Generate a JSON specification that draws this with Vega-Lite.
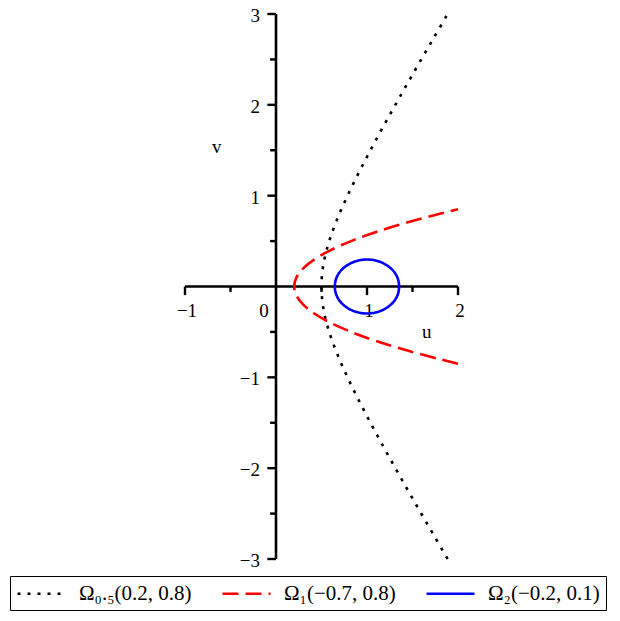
{
  "$schema": "https://vega.github.io/schema/vega-lite/v6.json",
  "width": 273,
  "height": 545,
  "autosize": {"type": "none"},
  "padding": {"left": 185, "top": 14, "right": 162, "bottom": 62},
  "background": "white",
  "config": {
    "view": {"stroke": null},
    "axis": {"disable": true},
    "text": {"font": "Liberation Serif", "fontSize": 19, "color": "black"}
  },
  "datasets": {
    "curves": [
      {"s": "Ω₀.₅(0.2, 0.8)", "i": 0, "u": 1.886, "v": -3.0},
      {"s": "Ω₀.₅(0.2, 0.8)", "i": 1, "u": 1.741, "v": -2.75},
      {"s": "Ω₀.₅(0.2, 0.8)", "i": 2, "u": 1.596, "v": -2.5},
      {"s": "Ω₀.₅(0.2, 0.8)", "i": 3, "u": 1.453, "v": -2.25},
      {"s": "Ω₀.₅(0.2, 0.8)", "i": 4, "u": 1.312, "v": -2.0},
      {"s": "Ω₀.₅(0.2, 0.8)", "i": 5, "u": 1.173, "v": -1.75},
      {"s": "Ω₀.₅(0.2, 0.8)", "i": 6, "u": 1.038, "v": -1.5},
      {"s": "Ω₀.₅(0.2, 0.8)", "i": 7, "u": 0.908, "v": -1.25},
      {"s": "Ω₀.₅(0.2, 0.8)", "i": 8, "u": 0.786, "v": -1.0},
      {"s": "Ω₀.₅(0.2, 0.8)", "i": 9, "u": 0.676, "v": -0.75},
      {"s": "Ω₀.₅(0.2, 0.8)", "i": 10, "u": 0.585, "v": -0.5},
      {"s": "Ω₀.₅(0.2, 0.8)", "i": 11, "u": 0.522, "v": -0.25},
      {"s": "Ω₀.₅(0.2, 0.8)", "i": 12, "u": 0.5, "v": 0.0},
      {"s": "Ω₀.₅(0.2, 0.8)", "i": 13, "u": 0.522, "v": 0.25},
      {"s": "Ω₀.₅(0.2, 0.8)", "i": 14, "u": 0.585, "v": 0.5},
      {"s": "Ω₀.₅(0.2, 0.8)", "i": 15, "u": 0.676, "v": 0.75},
      {"s": "Ω₀.₅(0.2, 0.8)", "i": 16, "u": 0.786, "v": 1.0},
      {"s": "Ω₀.₅(0.2, 0.8)", "i": 17, "u": 0.908, "v": 1.25},
      {"s": "Ω₀.₅(0.2, 0.8)", "i": 18, "u": 1.038, "v": 1.5},
      {"s": "Ω₀.₅(0.2, 0.8)", "i": 19, "u": 1.173, "v": 1.75},
      {"s": "Ω₀.₅(0.2, 0.8)", "i": 20, "u": 1.312, "v": 2.0},
      {"s": "Ω₀.₅(0.2, 0.8)", "i": 21, "u": 1.453, "v": 2.25},
      {"s": "Ω₀.₅(0.2, 0.8)", "i": 22, "u": 1.596, "v": 2.5},
      {"s": "Ω₀.₅(0.2, 0.8)", "i": 23, "u": 1.741, "v": 2.75},
      {"s": "Ω₀.₅(0.2, 0.8)", "i": 24, "u": 1.886, "v": 3.0},

      {"s": "Ω₁(−0.7, 0.8)", "i": 0, "u": 2.0, "v": -0.85},
      {"s": "Ω₁(−0.7, 0.8)", "i": 1, "u": 1.8, "v": -0.8},
      {"s": "Ω₁(−0.7, 0.8)", "i": 2, "u": 1.425, "v": -0.7},
      {"s": "Ω₁(−0.7, 0.8)", "i": 3, "u": 1.1, "v": -0.6},
      {"s": "Ω₁(−0.7, 0.8)", "i": 4, "u": 0.825, "v": -0.5},
      {"s": "Ω₁(−0.7, 0.8)", "i": 5, "u": 0.6, "v": -0.4},
      {"s": "Ω₁(−0.7, 0.8)", "i": 6, "u": 0.425, "v": -0.3},
      {"s": "Ω₁(−0.7, 0.8)", "i": 7, "u": 0.3, "v": -0.2},
      {"s": "Ω₁(−0.7, 0.8)", "i": 8, "u": 0.225, "v": -0.1},
      {"s": "Ω₁(−0.7, 0.8)", "i": 9, "u": 0.2, "v": 0.0},
      {"s": "Ω₁(−0.7, 0.8)", "i": 10, "u": 0.225, "v": 0.1},
      {"s": "Ω₁(−0.7, 0.8)", "i": 11, "u": 0.3, "v": 0.2},
      {"s": "Ω₁(−0.7, 0.8)", "i": 12, "u": 0.425, "v": 0.3},
      {"s": "Ω₁(−0.7, 0.8)", "i": 13, "u": 0.6, "v": 0.4},
      {"s": "Ω₁(−0.7, 0.8)", "i": 14, "u": 0.825, "v": 0.5},
      {"s": "Ω₁(−0.7, 0.8)", "i": 15, "u": 1.1, "v": 0.6},
      {"s": "Ω₁(−0.7, 0.8)", "i": 16, "u": 1.425, "v": 0.7},
      {"s": "Ω₁(−0.7, 0.8)", "i": 17, "u": 1.8, "v": 0.8},
      {"s": "Ω₁(−0.7, 0.8)", "i": 18, "u": 2.0, "v": 0.85},

      {"s": "Ω₂(−0.2, 0.1)", "i": 0, "u": 1.354, "v": 0.0},
      {"s": "Ω₂(−0.2, 0.1)", "i": 1, "u": 1.342, "v": 0.077},
      {"s": "Ω₂(−0.2, 0.1)", "i": 2, "u": 1.307, "v": 0.149},
      {"s": "Ω₂(−0.2, 0.1)", "i": 3, "u": 1.25, "v": 0.21},
      {"s": "Ω₂(−0.2, 0.1)", "i": 4, "u": 1.177, "v": 0.257},
      {"s": "Ω₂(−0.2, 0.1)", "i": 5, "u": 1.092, "v": 0.287},
      {"s": "Ω₂(−0.2, 0.1)", "i": 6, "u": 1.0, "v": 0.297},
      {"s": "Ω₂(−0.2, 0.1)", "i": 7, "u": 0.908, "v": 0.287},
      {"s": "Ω₂(−0.2, 0.1)", "i": 8, "u": 0.823, "v": 0.257},
      {"s": "Ω₂(−0.2, 0.1)", "i": 9, "u": 0.75, "v": 0.21},
      {"s": "Ω₂(−0.2, 0.1)", "i": 10, "u": 0.693, "v": 0.149},
      {"s": "Ω₂(−0.2, 0.1)", "i": 11, "u": 0.658, "v": 0.077},
      {"s": "Ω₂(−0.2, 0.1)", "i": 12, "u": 0.646, "v": 0.0},
      {"s": "Ω₂(−0.2, 0.1)", "i": 13, "u": 0.658, "v": -0.077},
      {"s": "Ω₂(−0.2, 0.1)", "i": 14, "u": 0.693, "v": -0.149},
      {"s": "Ω₂(−0.2, 0.1)", "i": 15, "u": 0.75, "v": -0.21},
      {"s": "Ω₂(−0.2, 0.1)", "i": 16, "u": 0.823, "v": -0.257},
      {"s": "Ω₂(−0.2, 0.1)", "i": 17, "u": 0.908, "v": -0.287},
      {"s": "Ω₂(−0.2, 0.1)", "i": 18, "u": 1.0, "v": -0.297},
      {"s": "Ω₂(−0.2, 0.1)", "i": 19, "u": 1.092, "v": -0.287},
      {"s": "Ω₂(−0.2, 0.1)", "i": 20, "u": 1.177, "v": -0.257},
      {"s": "Ω₂(−0.2, 0.1)", "i": 21, "u": 1.25, "v": -0.21},
      {"s": "Ω₂(−0.2, 0.1)", "i": 22, "u": 1.307, "v": -0.149},
      {"s": "Ω₂(−0.2, 0.1)", "i": 23, "u": 1.342, "v": -0.077},
      {"s": "Ω₂(−0.2, 0.1)", "i": 24, "u": 1.354, "v": 0.0}
    ],
    "uticks": [
      {"t": -1, "kind": "major"},
      {"t": -0.5, "kind": "minor"},
      {"t": 0.5, "kind": "minor"},
      {"t": 1, "kind": "major"},
      {"t": 1.5, "kind": "minor"},
      {"t": 2, "kind": "major"}
    ],
    "vticks": [
      {"t": -3, "kind": "major"},
      {"t": -2.5, "kind": "minor"},
      {"t": -2, "kind": "major"},
      {"t": -1.5, "kind": "minor"},
      {"t": -1, "kind": "major"},
      {"t": -0.5, "kind": "minor"},
      {"t": 0.5, "kind": "minor"},
      {"t": 1, "kind": "major"},
      {"t": 1.5, "kind": "minor"},
      {"t": 2, "kind": "major"},
      {"t": 2.5, "kind": "minor"},
      {"t": 3, "kind": "major"}
    ]
  },
  "layer": [
    {
      "data": {"values": [{}]},
      "mark": {"type": "rule", "color": "black", "strokeWidth": 2.6},
      "encoding": {
        "x": {"datum": -1, "type": "quantitative"},
        "x2": {"datum": 2},
        "y": {"datum": 0, "type": "quantitative"}
      }
    },
    {
      "data": {"values": [{}]},
      "mark": {"type": "rule", "color": "black", "strokeWidth": 2.6},
      "encoding": {
        "x": {"datum": 0, "type": "quantitative"},
        "y": {"datum": -3, "type": "quantitative"},
        "y2": {"datum": 3}
      }
    },
    {
      "data": {"name": "uticks"},
      "transform": [{"filter": "datum.kind === 'major'"}],
      "mark": {"type": "rule", "color": "black", "strokeWidth": 2.4},
      "encoding": {
        "x": {"field": "t", "type": "quantitative"},
        "y": {"datum": 0, "type": "quantitative"},
        "y2": {"datum": -0.095}
      }
    },
    {
      "data": {"name": "uticks"},
      "transform": [{"filter": "datum.kind === 'minor'"}],
      "mark": {"type": "rule", "color": "black", "strokeWidth": 2.4},
      "encoding": {
        "x": {"field": "t", "type": "quantitative"},
        "y": {"datum": 0, "type": "quantitative"},
        "y2": {"datum": -0.06}
      }
    },
    {
      "data": {"name": "vticks"},
      "transform": [{"filter": "datum.kind === 'major'"}],
      "mark": {"type": "rule", "color": "black", "strokeWidth": 2.4},
      "encoding": {
        "y": {"field": "t", "type": "quantitative"},
        "x": {"datum": 0, "type": "quantitative"},
        "x2": {"datum": -0.095}
      }
    },
    {
      "data": {"name": "vticks"},
      "transform": [{"filter": "datum.kind === 'minor'"}],
      "mark": {"type": "rule", "color": "black", "strokeWidth": 2.4},
      "encoding": {
        "y": {"field": "t", "type": "quantitative"},
        "x": {"datum": 0, "type": "quantitative"},
        "x2": {"datum": -0.065}
      }
    },
    {
      "data": {"name": "uticks"},
      "transform": [{"filter": "datum.kind === 'major'"}],
      "mark": {"type": "text", "align": "center", "baseline": "alphabetic", "dx": 2, "dy": 30},
      "encoding": {
        "x": {"field": "t", "type": "quantitative"},
        "y": {"datum": 0, "type": "quantitative"},
        "text": {"field": "t", "type": "quantitative", "format": "d"}
      }
    },
    {
      "data": {"values": [{"t": 0}]},
      "mark": {"type": "text", "align": "center", "baseline": "alphabetic", "dx": -12, "dy": 30},
      "encoding": {
        "x": {"field": "t", "type": "quantitative"},
        "y": {"datum": 0, "type": "quantitative"},
        "text": {"field": "t", "type": "quantitative", "format": "d"}
      }
    },
    {
      "data": {"name": "vticks"},
      "transform": [{"filter": "datum.kind === 'major'"}],
      "mark": {"type": "text", "align": "right", "baseline": "alphabetic", "dx": -16, "dy": 8},
      "encoding": {
        "y": {"field": "t", "type": "quantitative"},
        "x": {"datum": 0, "type": "quantitative"},
        "text": {"field": "t", "type": "quantitative", "format": "d"}
      }
    },
    {
      "data": {"values": [{"name": "u"}]},
      "mark": {"type": "text", "align": "center", "baseline": "alphabetic"},
      "encoding": {
        "x": {"datum": 1.656, "type": "quantitative"},
        "y": {"datum": -0.565, "type": "quantitative"},
        "text": {"field": "name"}
      }
    },
    {
      "data": {"values": [{"name": "v"}]},
      "mark": {"type": "text", "align": "center", "baseline": "alphabetic"},
      "encoding": {
        "x": {"datum": -0.65, "type": "quantitative"},
        "y": {"datum": 1.472, "type": "quantitative"},
        "text": {"field": "name"}
      }
    },
    {
      "data": {"name": "curves"},
      "mark": {"type": "line", "strokeWidth": 2.6, "interpolate": "catmull-rom"},
      "encoding": {
        "x": {"field": "u", "type": "quantitative", "scale": {"domain": [-1, 2], "nice": false, "zero": false}},
        "y": {"field": "v", "type": "quantitative", "scale": {"domain": [-3, 3], "nice": false, "zero": false}},
        "order": {"field": "i", "type": "quantitative"},
        "color": {
          "field": "s",
          "type": "nominal",
          "scale": {
            "domain": ["Ω₀.₅(0.2, 0.8)", "Ω₁(−0.7, 0.8)", "Ω₂(−0.2, 0.1)"],
            "range": ["#000000", "#ff0000", "#0000ff"]
          },
          "legend": {
            "title": null,
            "orient": "none",
            "legendX": -175,
            "legendY": 562,
            "direction": "horizontal",
            "columns": 3,
            "symbolType": "M-1,0H3.8",
            "symbolSize": 400,
            "symbolStrokeWidth": 2.6,
            "labelFont": "Liberation Serif",
            "labelFontSize": 21,
            "labelColor": "black",
            "labelOffset": 40,
            "labelLimit": 0,
            "columnPadding": 25,
            "padding": 6,
            "strokeColor": "black"
          }
        },
        "strokeDash": {
          "field": "s",
          "type": "nominal",
          "scale": {
            "domain": ["Ω₀.₅(0.2, 0.8)", "Ω₁(−0.7, 0.8)", "Ω₂(−0.2, 0.1)"],
            "range": [[3, 7], [16, 7], [1, 0]]
          }
        }
      }
    }
  ]
}
